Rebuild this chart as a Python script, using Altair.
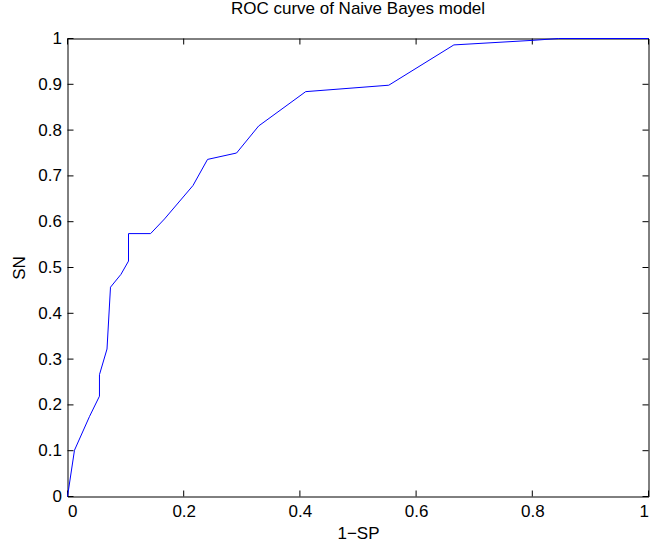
import altair as alt
import pandas as pd

# ROC curve points
fpr = [0, 0.012, 0.038, 0.055, 0.055, 0.068, 0.074, 0.092, 0.105, 0.105, 0.143,
       0.167, 0.216, 0.241, 0.291, 0.329, 0.410, 0.553, 0.665, 0.801, 0.845, 1.0]
tpr = [0, 0.101, 0.175, 0.219, 0.266, 0.322, 0.457, 0.485, 0.514, 0.574, 0.574,
       0.606, 0.679, 0.736, 0.750, 0.809, 0.884, 0.898, 0.986, 0.996, 1.0, 1.0]

x_ticks = [0, 0.2, 0.4, 0.6, 0.8, 1]
y_ticks = [0, 0.1, 0.2, 0.3, 0.4, 0.5, 0.6, 0.7, 0.8, 0.9, 1]

W, H = 581, 458
FONT = "Liberation Sans"
FS = 17

df = pd.DataFrame({"fpr": fpr, "tpr": tpr, "idx": list(range(len(fpr)))})
dx = pd.DataFrame({"v": x_ticks})
dy = pd.DataFrame({"v": y_ticks})

xscale = alt.Scale(domain=[0, 1], nice=False, zero=False)
yscale = alt.Scale(domain=[0, 1], nice=False, zero=False)

line = alt.Chart(df).mark_line(color="#0000ff", strokeWidth=1).encode(
    x=alt.X("fpr:Q", scale=xscale, title="1\u2212SP",
            axis=alt.Axis(values=x_ticks, labelExpr="'' + datum.value",
                          grid=False, domain=False, ticks=False,
                          labelPadding=7, titlePadding=6,
                          labelFont=FONT, labelFontSize=FS, labelColor="black",
                          titleFont=FONT, titleFontSize=FS, titleFontWeight="normal",
                          titleColor="black")),
    y=alt.Y("tpr:Q", scale=yscale, title="SN",
            axis=alt.Axis(values=y_ticks, labelExpr="'' + datum.value",
                          grid=False, domain=False, ticks=False,
                          labelPadding=6, titlePadding=9,
                          labelFont=FONT, labelFontSize=FS, labelColor="black",
                          titleFont=FONT, titleFontSize=FS, titleFontWeight="normal",
                          titleColor="black")),
    order="idx:O",
)

tick_style = dict(color="black", strokeWidth=1)
bottom_ticks = alt.Chart(dx).mark_rule(**tick_style).encode(
    x=alt.X("v:Q", scale=xscale), y=alt.value(H), y2=alt.value(H - 6))
top_ticks = alt.Chart(dx).mark_rule(**tick_style).encode(
    x=alt.X("v:Q", scale=xscale), y=alt.value(0), y2=alt.value(6))
left_ticks = alt.Chart(dy).mark_rule(**tick_style).encode(
    y=alt.Y("v:Q", scale=yscale), x=alt.value(0), x2=alt.value(6))
right_ticks = alt.Chart(dy).mark_rule(**tick_style).encode(
    y=alt.Y("v:Q", scale=yscale), x=alt.value(W), x2=alt.value(W - 6))

chart = alt.layer(bottom_ticks, top_ticks, left_ticks, right_ticks, line).properties(
    width=W, height=H,
    background="white",
    title=alt.TitleParams("ROC curve of Naive Bayes model", font=FONT, fontSize=FS,
                          fontWeight="normal", color="black", anchor="middle", offset=12),
    autosize=alt.AutoSizeParams(type="none"),
    padding={"left": 67.5, "top": 38.5, "right": 6.5, "bottom": 51.5},
).configure_view(stroke="#000000", strokeWidth=1, strokeOpacity=1)

chart.save("out.html", embed_options={"renderer": "svg", "actions": False})
